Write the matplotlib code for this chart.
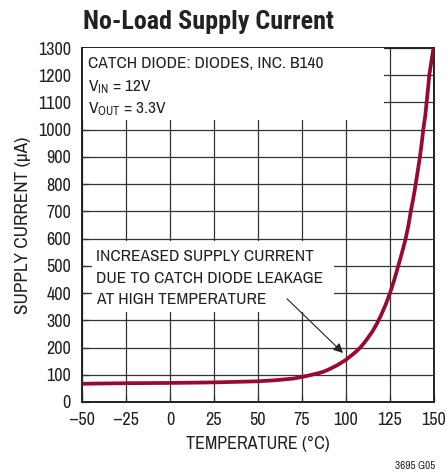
import matplotlib
matplotlib.use("Agg")
import matplotlib.pyplot as plt
from matplotlib.patches import Rectangle
from matplotlib import font_manager

# datos
temperatura = [-50, -25, 0, 25, 50, 60, 70, 75, 80, 85, 87.5, 90, 95, 100,
               105, 107.5, 110, 112.5, 115, 117.5, 120, 122.5, 125, 127.5,
               129.7, 132, 133.9, 135.5, 136.8, 138.3, 139.6, 140.8, 142, 143,
               143.9, 145, 145.8, 146.6, 147.3, 148.5, 149.7]
corriente = [67, 69, 70, 72, 76, 80, 86, 92, 99, 107, 112, 119, 135, 155,
             181, 196, 214, 236, 259, 287, 320, 357, 400, 450,
             500, 553, 600, 650, 700, 750, 800, 850, 900, 950,
             1000, 1050, 1100, 1150, 1200, 1250, 1300]

xticks = [-50, -25, 0, 25, 50, 75, 100, 125, 150]
xticklabels = ["\u201350", "\u201325", "0", "25", "50", "75", "100", "125", "150"]
yticks = list(range(0, 1301, 100))

fuentes = font_manager.fontManager.ttflist
nombres = set(f.name for f in fuentes)
candidatas = ["Liberation Sans Narrow", "Nimbus Sans Narrow", "Archivo Narrow",
              "Roboto Condensed", "PT Sans Narrow", "Pragati Narrow",
              "Liberation Sans"]
FUENTE = "DejaVu Sans"
for c in candidatas:
    if c in nombres:
        FUENTE = c
        break

# para el titulo hace falta una variante negrita
FUENTE_TITULO = FUENTE
for c in candidatas:
    negritas = [f for f in fuentes if f.name == c and f.style == "normal"
                and (f.weight == "bold" or f.weight == 700)]
    if negritas:
        FUENTE_TITULO = c
        break

plt.rcParams["font.family"] = [FUENTE, "DejaVu Sans"]
plt.rcParams["mathtext.default"] = "regular"

ROJO = "#9a0a2e"
GRIS = "#333333"
TEXTO = "#222222"

fig = plt.figure(figsize=(4.47, 4.73), dpi=100)
ax = fig.add_axes([82 / 447, 1 - 402 / 473, 352 / 447, 354 / 473])

ax.plot(temperatura, corriente, color=ROJO, linewidth=2.7, zorder=4,
        solid_capstyle="butt", solid_joinstyle="round")

ax.set_xlim(-50, 150)
ax.set_ylim(0, 1300)
ax.set_xticks(xticks)
ax.set_xticklabels(xticklabels)
ax.set_yticks(yticks)
ax.tick_params(direction="in", length=5, width=0.9, color=GRIS,
               labelsize=13, pad=8, labelcolor=TEXTO)
ax.tick_params(axis="x", pad=7)
ax.grid(True, color=GRIS, linewidth=0.9)
for s in ax.spines.values():
    s.set_linewidth(1.4)
    s.set_color(TEXTO)

# cajas blancas detras de los textos
ax.add_patch(Rectangle((-49.3, 1035), 171, 264, facecolor="white",
                       edgecolor="none", zorder=3))
ax.add_patch(Rectangle((-44.5, 330), 137.5, 262, facecolor="white",
                       edgecolor="none", zorder=3))

ax.text(-46.6, 1228, "CATCH DIODE: DIODES, INC. B140", fontsize=12.5,
        va="baseline", zorder=5, color=TEXTO)
ax.text(-46.6, 1141, "V$_{IN}$ = 12V", fontsize=12.5, va="baseline",
        zorder=5, color=TEXTO)
ax.text(-46.6, 1059, "V$_{OUT}$ = 3.3V", fontsize=12.5, va="baseline",
        zorder=5, color=TEXTO)

ax.text(-42, 516, "INCREASED SUPPLY CURRENT", fontsize=12.5, va="baseline",
        zorder=5, color=TEXTO)
ax.text(-42, 436, "DUE TO CATCH DIODE LEAKAGE", fontsize=12.5, va="baseline",
        zorder=5, color=TEXTO)
ax.text(-42, 360, "AT HIGH TEMPERATURE", fontsize=12.5, va="baseline",
        zorder=5, color=TEXTO)

ax.annotate("", xy=(98.3, 180), xytext=(66.5, 379),
            arrowprops=dict(arrowstyle="-|>", color=TEXTO, lw=0.8,
                            mutation_scale=14, shrinkA=0, shrinkB=0),
            zorder=5)

ax.set_xlabel("TEMPERATURE (\u00b0C)", fontsize=13, color=TEXTO,
              labelpad=6)
ax.set_ylabel("SUPPLY CURRENT (\u00b5A)", fontsize=13.8, color=TEXTO,
              labelpad=5)

fig.text(83 / 447, 1 - 29 / 473, "No-Load Supply Current", fontsize=18.8,
         fontweight="bold", family=[FUENTE_TITULO, "DejaVu Sans"],
         color=TEXTO, va="baseline", ha="left")
fig.text(435 / 447, 1 - 469 / 473, "3695 G05", fontsize=8,
         color=TEXTO, va="baseline", ha="right")

fig.savefig("out.png", dpi=100)
